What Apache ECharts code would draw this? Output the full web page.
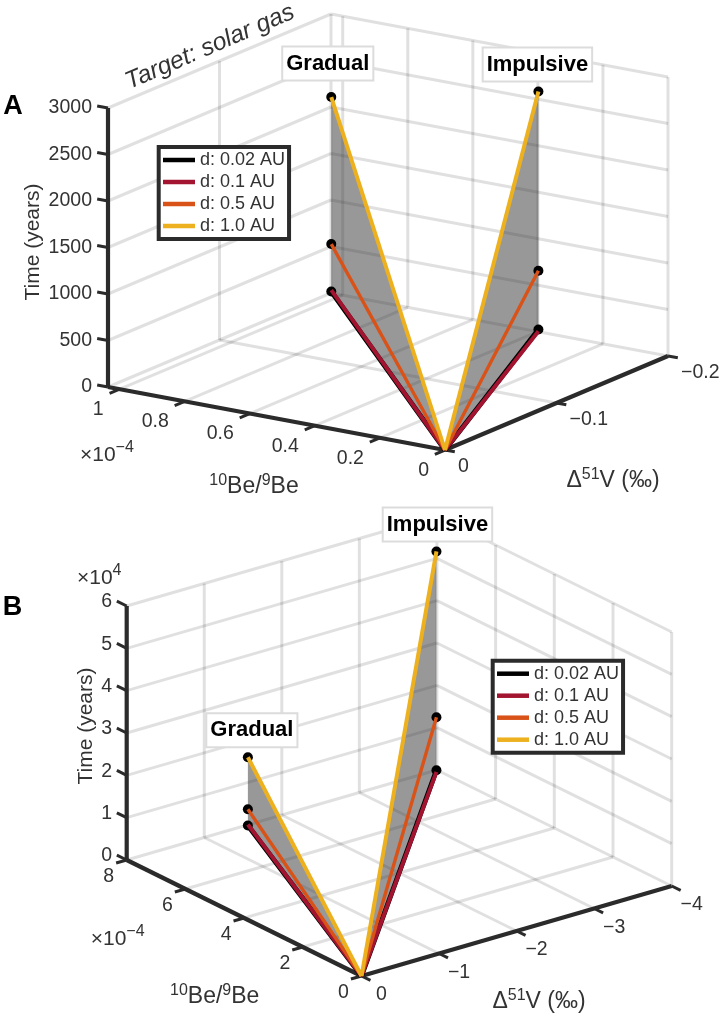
<!DOCTYPE html>
<html>
<head>
<meta charset="utf-8">
<style>html,body{margin:0;padding:0;background:#fff}#c{width:720px;height:1015px}</style>
<script src="https://cdn.jsdelivr.net/npm/echarts@6/dist/echarts.min.js"></script>
</head>
<body>
<div id="c"></div>
<script>
// ---- data ----
const distanceNames = ['d: 0.02 AU', 'd: 0.1 AU', 'd: 0.5 AU', 'd: 1.0 AU'];
const distanceColors = ['#000000', '#A2142F', '#D95319', '#EDB120'];

const beTicksA = [0, 0.2, 0.4, 0.6, 0.8, 1];
const vTicksA = [0, -0.1, -0.2];
const timeTicksA = [0, 500, 1000, 1500, 2000, 2500, 3000];
const gradualBeA = 0.9265, gradualVA = -0.1683;
const impulsiveBeA = 0.2575, impulsiveVA = -0.1589;
const gradualTimeA = [248, 262, 758, 2339];
const impulsiveTimeA = [325, 305, 956, 2883];

const beTicksB = [0, 2, 4, 6, 8];
const vTicksB = [0, -1, -2, -3, -4];
const timeTicksB = [0, 1, 2, 3, 4, 5, 6];
const gradualBeB = 7.65, gradualVB = -1.43;
const impulsiveBeB = 6.8, impulsiveVB = -3.54;
const gradualTimeB = [0.175, 0.2, 0.5577, 1.787];
const impulsiveTimeB = [0.65, 0.61, 1.9, 5.818];

// ---- layout of the two oblique boxes (pixels on the page) ----
const panelA = {
  F: [445, 450], L: [108, 387], R: [668, 356], H: 279, beMax: 1.036, vMax: -0.2, tMax: 3000,
  beTicks: beTicksA, vTicks: vTicksA, tTicks: timeTicksA,
  beLabel: { dx: -16, dy: 20.5, align: 'right' },
  vLabel: { dx: 13, dy: 17, align: 'left' },
  tLabel: { dx: -16, dy: 0, align: 'right' },
  fmtBe: v => String(v), fmtV: v => v === 0 ? '0' : '\u2212' + Math.abs(v), fmtT: v => String(v),
  gBe: gradualBeA, gV: gradualVA, gT: gradualTimeA, iBe: impulsiveBeA, iV: impulsiveVA, iT: impulsiveTimeA,
  gBox: [-3.5, -33.5], iBox: [-1, -27]
};
const panelB = {
  F: [361.5, 976], L: [126.7, 860], R: [671.7, 886], H: 254, beMax: 8, vMax: -4, tMax: 6,
  beTicks: beTicksB, vTicks: vTicksB, tTicks: timeTicksB,
  beLabel: { dx: -18, dy: 17, align: 'center' },
  vLabel: { dx: 20, dy: 19, align: 'center' },
  tLabel: { dx: -14.5, dy: -4, align: 'right' },
  fmtBe: v => String(v), fmtV: v => v === 0 ? '0' : '\u2212' + Math.abs(v), fmtT: v => String(v),
  gBe: gradualBeB, gV: gradualVB, gT: gradualTimeB, iBe: impulsiveBeB, iV: impulsiveVB, iT: impulsiveTimeB,
  gBox: [4, -27], iBox: [1, -27]
};

function project(p, be, v, t) {
  const a = be / p.beMax, b = v / p.vMax, c = t / p.tMax;
  return [
    p.F[0] + a * (p.L[0] - p.F[0]) + b * (p.R[0] - p.F[0]),
    p.F[1] + a * (p.L[1] - p.F[1]) + b * (p.R[1] - p.F[1]) - c * p.H
  ];
}
function unit(from, to) {
  const dx = to[0] - from[0], dy = to[1] - from[1], n = Math.hypot(dx, dy);
  return [dx / n, dy / n];
}

function segSeries(rows, stroke, width, z) {
  return {
    type: 'custom', coordinateSystem: 'cartesian2d', clip: false, silent: true, z: z, animation: false,
    encode: { x: [0, 2], y: [1, 3] }, data: rows,
    renderItem: (params, api) => {
      const a = api.coord([api.value(0), api.value(1)]);
      const b = api.coord([api.value(2), api.value(3)]);
      return { type: 'line', shape: { x1: a[0], y1: a[1], x2: b[0], y2: b[1] },
        style: { stroke: stroke, lineWidth: width, lineCap: 'butt', fill: null } };
    }
  };
}

function gridRows(p) {
  const r = [], bm = p.beMax, vm = p.vMax, tm = p.tMax;
  const s = (a, b) => r.push([a[0], a[1], b[0], b[1]]);
  p.tTicks.forEach(t => {
    if (t === 0) return;
    s(project(p, bm, 0, t), project(p, bm, vm, t));
    s(project(p, bm, vm, t), project(p, 0, vm, t));
  });
  // vertical lines on the left wall, floor lines running along Be
  p.vTicks.forEach(v => {
    if (v !== 0) s(project(p, bm, v, 0), project(p, bm, v, tm));
    if (v !== 0 && v !== vm) s(project(p, 0, v, 0), project(p, bm, v, 0));
  });
  // vertical lines on the right wall, floor lines running along V
  p.beTicks.forEach(b => {
    if (b !== bm) s(project(p, b, vm, 0), project(p, b, vm, tm));
    if (b !== 0 && b !== bm) s(project(p, b, 0, 0), project(p, b, vm, 0));
  });
  // back edges of the floor
  s(project(p, bm, vm, 0), project(p, 0, vm, 0));
  s(project(p, bm, vm, 0), project(p, bm, 0, 0));
  return r;
}
function axisRows(p) {
  const c = (a, b) => [a[0], a[1], b[0], b[1]];
  return [
    c(project(p, p.beMax, 0, 0), project(p, p.beMax, 0, p.tMax)),
    c(project(p, p.beMax, 0, 0), project(p, 0, 0, 0)),
    c(project(p, 0, 0, 0), project(p, 0, p.vMax, 0))
  ];
}
function tickRows(p) {
  const r = [], len = 11;
  const dBe = unit(p.F, p.L), dV = unit(p.F, p.R);
  p.tTicks.forEach(t => { const a = project(p, p.beMax, 0, t); r.push([a[0], a[1], a[0] + dBe[0] * len, a[1] + dBe[1] * len]); });
  p.beTicks.forEach(b => { const a = project(p, b, 0, 0); r.push([a[0], a[1], a[0] - dV[0] * len, a[1] - dV[1] * len]); });
  p.vTicks.forEach(v => { const a = project(p, 0, v, 0); r.push([a[0], a[1], a[0] - dBe[0] * 10, a[1] - dBe[1] * 10]); });
  return r;
}

function fillSeries(p) {
  const O = project(p, 0, 0, 0);
  const rows = [
    [O, project(p, p.gBe, p.gV, p.gT[0]), project(p, p.gBe, p.gV, p.gT[3])],
    [O, project(p, p.iBe, p.iV, p.iT[0]), project(p, p.iBe, p.iV, p.iT[3])]
  ].map(t => [t[0][0], t[0][1], t[1][0], t[1][1], t[2][0], t[2][1]]);
  return {
    type: 'custom', coordinateSystem: 'cartesian2d', clip: false, silent: true, z: 2, animation: false,
    encode: { x: [0, 2, 4], y: [1, 3, 5] }, data: rows,
    renderItem: (params, api) => {
      const pts = [0, 2, 4].map(i => api.coord([api.value(i), api.value(i + 1)]));
      return { type: 'polygon', shape: { points: pts }, style: { fill: 'rgba(50,50,50,0.5)', stroke: null } };
    }
  };
}
function markerSeries(p) {
  const d = [];
  [0, 2, 3].forEach(i => {
    d.push(project(p, p.gBe, p.gV, p.gT[i]));
    d.push(project(p, p.iBe, p.iV, p.iT[i]));
  });
  return { type: 'scatter', data: d, symbol: 'circle', symbolSize: 10, z: 4, silent: true, animation: false, clip: false,
    itemStyle: { color: '#000', opacity: 1 } };
}
const lineWidths = [5, 4, 3.4, 4];
function lineSeries(p) {
  return distanceNames.map((name, i) => ({
    type: 'line', name: name, symbol: 'none', z: 5 + i * 0.01, zlevel: 0, silent: true, animation: false, clip: false,
    connectNulls: false,
    lineStyle: { color: distanceColors[i], width: lineWidths[i], cap: 'butt', join: 'miter', opacity: 1 },
    itemStyle: { color: distanceColors[i] },
    data: [project(p, 0, 0, 0), project(p, p.gBe, p.gV, p.gT[i]), [null, null],
           project(p, 0, 0, 0), project(p, p.iBe, p.iV, p.iT[i])]
  }));
}

const FONT = '"Liberation Sans", Arial, sans-serif';
const INK = '#333333';
const richLabel = {
  b: { fontFamily: FONT, fontSize: 23, fill: INK, color: INK, lineHeight: 25, verticalAlign: 'bottom' },
  s: { fontFamily: FONT, fontSize: 16, fill: INK, color: INK, lineHeight: 25, verticalAlign: 'top', height: 15 },
  t: { fontFamily: FONT, fontSize: 21, fill: INK, color: INK, lineHeight: 25, verticalAlign: 'bottom' }
};
function textRows(p) {
  const r = [];
  p.tTicks.forEach(t => { const a = project(p, p.beMax, 0, t);
    r.push({ x: a[0] + p.tLabel.dx, y: a[1] + p.tLabel.dy, text: p.fmtT(t), align: p.tLabel.align, size: 19.5 }); });
  p.beTicks.forEach(b => { const a = project(p, b, 0, 0);
    r.push({ x: a[0] + p.beLabel.dx, y: a[1] + p.beLabel.dy, text: p.fmtBe(b), align: p.beLabel.align, size: 19.5 }); });
  p.vTicks.forEach(v => { const a = project(p, 0, v, 0);
    r.push({ x: a[0] + p.vLabel.dx, y: a[1] + p.vLabel.dy, text: p.fmtV(v), align: p.vLabel.align, size: 19.5 }); });
  const gEnd = project(p, p.gBe, p.gV, p.gT[3]), iEnd = project(p, p.iBe, p.iV, p.iT[3]);
  r.push({ x: gEnd[0] + p.gBox[0], y: gEnd[1] + p.gBox[1], text: 'Gradual', box: true });
  r.push({ x: iEnd[0] + p.iBox[0], y: iEnd[1] + p.iBox[1], text: 'Impulsive', box: true });
  return r;
}
const freeTexts = [
  { x: 33, y: 242, text: 'Time (years)', align: 'center', size: 21, rot: 90 },
  { x: 86, y: 726, text: 'Time (years)', align: 'center', size: 21, rot: 90 },
  { x: 210, y: 47, text: 'Target: solar gas', align: 'center', size: 24.5, rot: 23.3, italic: true },
  { x: 13, y: 106.5, text: 'A', align: 'center', size: 27, bold: true, color: '#000' },
  { x: 12.5, y: 607.5, text: 'B', align: 'center', size: 27, bold: true, color: '#000' },
  { x: 80, y: 453, rich: '{t|\u00d710}{s|\u22124}', align: 'left' },
  { x: 77, y: 576, rich: '{t|\u00d710}{s|4}', align: 'left' },
  { x: 90.7, y: 937, rich: '{t|\u00d710}{s|\u22124}', align: 'left' },
  { x: 254, y: 486, rich: '{s|10}{b|Be/}{s|9}{b|Be}', align: 'center' },
  { x: 214.7, y: 996, rich: '{s|10}{b|Be/}{s|9}{b|Be}', align: 'center' },
  { x: 613, y: 480, rich: '{b|\u0394}{s|51}{b|V (\u2030)}', align: 'center' },
  { x: 539, y: 1001, rich: '{b|\u0394}{s|51}{b|V (\u2030)}', align: 'center' }
];
function textSeries(rows) {
  return {
    type: 'custom', coordinateSystem: 'cartesian2d', clip: false, silent: true, z: 8, animation: false,
    encode: { x: 0, y: 1 }, data: rows.map(r => [r.x, r.y]),
    renderItem: (params, api) => {
      const r = rows[params.dataIndex];
      const c = api.coord([api.value(0), api.value(1)]);
      const el = { type: 'text', x: c[0], y: c[1], rotation: (r.rot || 0) * Math.PI / 180, z2: r.box ? 20 : 10 };
      if (r.box) {
        el.style = { text: r.text, fontFamily: FONT, fontSize: 22, fontWeight: 'bold', fill: '#000', align: 'center', verticalAlign: 'middle',
          backgroundColor: '#fff', borderColor: '#dcdcdc', borderWidth: 2, padding: [5, 3, 5, 3] };
      } else if (r.rich) {
        el.style = { text: r.rich, rich: richLabel, align: r.align, verticalAlign: 'middle', fill: INK };
      } else {
        el.style = { text: r.text, fontFamily: FONT, fontSize: r.size, fontWeight: r.bold ? 'bold' : 'normal',
          fontStyle: r.italic ? 'italic' : 'normal', fill: r.color || INK, align: r.align, verticalAlign: 'middle' };
      }
      return el;
    }
  };
}

function legendFor(left, top) {
  return {
    left: left, top: top, orient: 'vertical', selectedMode: false,
    data: distanceNames.map(n => ({ name: n, icon: 'rect' })),
    itemWidth: 32, itemHeight: 4.5, itemGap: 4, padding: [4, 4, 4, 4.3], z: 7,
    backgroundColor: '#fff', borderColor: '#2b2b2b', borderWidth: 4,
    textStyle: { fontFamily: FONT, fontSize: 18, color: INK, lineHeight: 18 }
  };
}

const series = [];
[panelA, panelB].forEach(p => {
  series.push(segSeries(gridRows(p), 'rgba(0,0,0,0.12)', 3, 1));
  series.push(fillSeries(p));
  series.push(segSeries(axisRows(p), '#2b2b2b', 4.2, 3));
  series.push(segSeries(tickRows(p), '#2b2b2b', 3, 3));
  series.push(markerSeries(p));
  lineSeries(p).forEach(s => series.push(s));
  series.push(textSeries(textRows(p)));
});
series.push(textSeries(freeTexts));

const chart = echarts.init(document.getElementById('c'), null, { renderer: 'canvas' });
chart.setOption({
  animation: false,
  backgroundColor: '#fff',
  grid: { left: 0, right: 0, top: 0, bottom: 0 },
  xAxis: { type: 'value', min: 0, max: 720, show: false },
  yAxis: { type: 'value', min: 0, max: 1015, inverse: true, show: false },
  legend: [legendFor(158.7, 147), legendFor(492.7, 660.7)],
  series: series
});
</script>
</body>
</html>
